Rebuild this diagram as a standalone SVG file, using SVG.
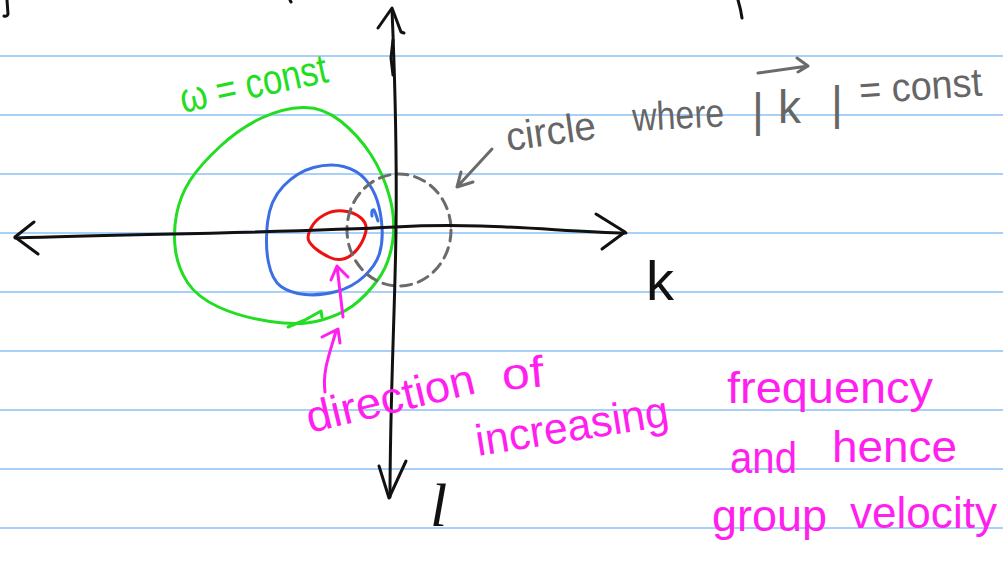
<svg xmlns="http://www.w3.org/2000/svg" width="1003" height="564" viewBox="0 0 1003 564">
<style>
.rule{stroke:#a9d0f7;stroke-width:2;fill:none}
.ink{fill:none;stroke-linecap:round;stroke-linejoin:round;stroke-width:3}
.blk{stroke:#111}
.grn{stroke:#22dd22}
.blu{stroke:#3b6fe3}
.red{stroke:#ee1111}
.mag{stroke:#ff1fee}
.gry{stroke:#6b6b6b}
.dash{stroke-dasharray:11 7}
text{font-family:"Liberation Sans",Arial,sans-serif}
.tg{fill:#22dd22}
.tgy{fill:#666}
.tm{fill:#ff1fee}
.tb{fill:#111}
</style>
<rect width="1003" height="564" fill="#fff"/>
<g id="ruled-lines">
<line class="rule" x1="0" y1="56" x2="1003" y2="56"/>
<line class="rule" x1="0" y1="115" x2="1003" y2="115"/>
<line class="rule" x1="0" y1="174" x2="1003" y2="174"/>
<line class="rule" x1="0" y1="233" x2="1003" y2="233"/>
<line class="rule" x1="0" y1="292" x2="1003" y2="292"/>
<line class="rule" x1="0" y1="351" x2="1003" y2="351"/>
<line class="rule" x1="0" y1="410" x2="1003" y2="410"/>
<line class="rule" x1="0" y1="469" x2="1003" y2="469"/>
<line class="rule" x1="0" y1="528" x2="1003" y2="528"/>
</g>
<g id="top-marks">
<path class="ink blk" d="M7,0 L8,14 Q7,17 4,16"/>
<path class="ink blk" d="M290,0 L291,2"/>
<path class="ink blk" d="M738,0 Q741,10 742,18"/>
</g>
<g id="contours">
<g id="omega-green">
<path class="ink grn" d="M270,321.5 Q240,317 218.5,307 Q197,297 187.5,282.5 Q178,268 175.5,250.5 Q173,233 176.5,214.5 Q180,196 190,180.5 Q200,165 220,146.5 Q240,128 261.5,118 Q283,108 303,107.5 Q323,107 340.5,121 Q358,135 370.5,154 Q383,173 389.5,196.5 Q396,220 392.5,242.5 Q389,265 377,281 Q365,297 352.5,306 Q340,315 320,320.5 Q300,326 270,321.5 Z"/>
<path class="ink grn" d="M288,327 L305,320 L321,311 L322,317"/>
</g>
<g id="omega-blue">
<path class="ink blu" d="M267.5,222.5 Q270,200 283.5,186 Q297,172 313.5,167.5 Q330,163 343.5,166.5 Q357,170 365,179 Q373,188 377,200 Q381,212 382,227 Q383,242 379.5,253.5 Q376,265 364.5,276 Q353,287 336.5,291.5 Q320,296 305,294.5 Q290,293 281,286.5 Q272,280 268.5,262.5 Q265,245 267.5,222.5 Z"/>
<path class="ink blu" d="M372,216 Q371,209 374,210 Q376,214 378,221"/>
</g>
<g id="omega-red">
<path class="ink red" d="M311,228 Q315,220 324,215 Q333,210 343.5,211 Q354,212 361,218 Q368,224 365.5,233 Q363,242 357.5,249 Q352,256 345,258.5 Q338,261 330,257.5 Q322,254 316,249 Q310,244 308.5,240 Q307,236 311,228 Z"/>
</g>
<g id="k-circle">
<ellipse class="ink gry dash" cx="399" cy="230" rx="52" ry="56"/>
</g>
</g>
<g id="axes">
<g id="k-axis">
<path class="ink blk" d="M15,238 C150,234 300,232 395,227 S560,232 626,233"/>
<path class="ink blk" d="M34,222 L15,237 L38,254"/>
<path class="ink blk" d="M596,214 L625,232 L602,249"/>
</g>
<g id="l-axis">
<path class="ink blk" d="M392,10 C395,80 397,150 396,230 S390,400 390,497"/>
<path class="ink blk" d="M393,40 L391,58 L393,75"/>
<path class="ink blk" d="M378,28 L392,8 L401,32 L404,33"/>
<path class="ink blk" d="M379,466 L389,498 L406,461"/>
</g>
</g>
<g id="connectors">
<path class="ink gry" d="M492,149 L457,187 M461,172 L457,187 L473,182"/>
<path class="ink mag" d="M343,317 L337,266 M331,280 L337,266 L348,277"/>
<path class="ink mag" d="M322,337 L338,329 L340,343 M336,331 C331,350 322,370 325,392"/>
<path class="ink gry" d="M758,73 L808,66 M797,58 L808,66 L798,72"/>
</g>
<g id="labels">
<text class="tg" x="183" y="113" font-size="42" textLength="150" lengthAdjust="spacingAndGlyphs" transform="rotate(-12 183 113)">ω = const</text>
<text class="tgy" x="508" y="151" font-size="40" textLength="90" lengthAdjust="spacingAndGlyphs" transform="rotate(-8 508 151)">circle</text>
<text class="tgy" x="633" y="131" font-size="40" textLength="92" lengthAdjust="spacingAndGlyphs" transform="rotate(-3 633 131)">where</text>
<text class="tgy" font-size="46"><tspan x="752" y="126">|</tspan><tspan x="778" y="123">k</tspan><tspan x="831" y="119">|</tspan></text>
<text class="tgy" x="860" y="104" font-size="40" textLength="123" lengthAdjust="spacingAndGlyphs" transform="rotate(-4 860 104)">= const</text>
<text class="tb" x="646" y="300" font-size="56">k</text>
<text class="tb" x="430" y="526" font-size="62" font-style="italic" style="font-family:'Liberation Serif',serif">l</text>
<text class="tm" x="310" y="433" font-size="44" textLength="172" lengthAdjust="spacingAndGlyphs" transform="rotate(-13.5 310 433)">direction</text>
<text class="tm" x="503" y="390" font-size="44" textLength="42" lengthAdjust="spacingAndGlyphs" transform="rotate(-5 503 390)">of</text>
<text class="tm" x="478" y="456" font-size="44" textLength="195" lengthAdjust="spacingAndGlyphs" transform="rotate(-9 478 456)">increasing</text>
<text class="tm" x="727" y="403" font-size="44" textLength="206" lengthAdjust="spacingAndGlyphs">frequency</text>
<text class="tm" x="730" y="473" font-size="44" textLength="67" lengthAdjust="spacingAndGlyphs">and</text>
<text class="tm" x="832" y="462" font-size="44" textLength="125" lengthAdjust="spacingAndGlyphs">hence</text>
<text class="tm" x="712" y="531" font-size="44" textLength="115" lengthAdjust="spacingAndGlyphs">group</text>
<text class="tm" x="850" y="528" font-size="44" textLength="147" lengthAdjust="spacingAndGlyphs">velocity</text>
</g>
</svg>
